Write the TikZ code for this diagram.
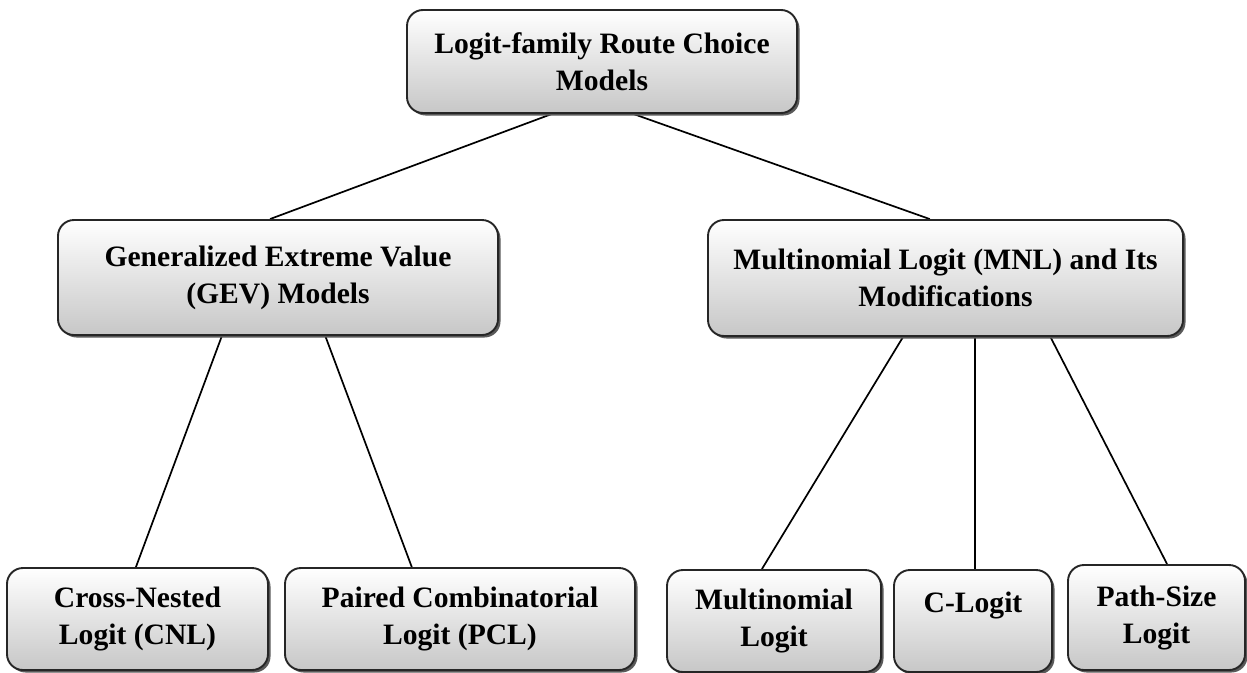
\documentclass[tikz,border=0pt]{standalone}
\usepackage{fontspec}
\setmainfont{Liberation Serif}
\usetikzlibrary{shadows,calc,backgrounds}
\begin{document}
\begin{tikzpicture}[x=1pt,y=-1pt,
  box/.style={draw=black!85, line width=1.9pt, rounded corners=16pt,
    top color=white, bottom color=black!22,
    drop shadow={shadow xshift=2.5pt, shadow yshift=-2.5pt, fill=black!65, opacity=1},
    align=center, inner sep=0pt,
    font=\fontsize{29.6}{37}\selectfont\bfseries},
  conn/.style={line width=1.7pt, black}]
\useasboundingbox (0,0) rectangle (1247,672);
\node[box, minimum width=390pt, minimum height=103pt] (top) at (602,61.5) {Logit-family Route Choice\\Models};
\node[box, minimum width=440pt, minimum height=115pt] (gev) at (278,277.5) {Generalized Extreme Value\\(GEV) Models};
\node[box, minimum width=475pt, minimum height=116pt] (mnl) at (945.5,278) {Multinomial Logit (MNL) and Its\\Modifications};
\node[box, minimum width=261pt, minimum height=102pt] (cnl) at (137.5,619) {Cross-Nested\\Logit (CNL)};
\node[box, minimum width=350pt, minimum height=102pt] (pcl) at (460,619) {Paired Combinatorial\\Logit (PCL)};
\node[box, minimum width=214pt, minimum height=102pt] (ml) at (774,621) {Multinomial\\Logit};
\node[box, minimum width=158pt, minimum height=102pt] (cl) at (973,621) {C-Logit\\\mbox{}};
\node[box, minimum width=177pt, minimum height=105pt] (psl) at (1156.5,617.5) {Path-Size\\Logit};
\begin{scope}[on background layer]
\draw[conn] ($(top.south west)!0.372!(top.south east)$) -- ($(gev.north west)!0.482!(gev.north east)$);
\draw[conn] ($(top.south west)!0.58!(top.south east)$) -- ($(mnl.north west)!0.467!(mnl.north east)$);
\draw[conn] ($(gev.south west)!0.373!(gev.south east)$) -- ($(cnl.north west)!0.494!(cnl.north east)$);
\draw[conn] ($(gev.south west)!0.607!(gev.south east)$) -- ($(pcl.north west)!0.363!(pcl.north east)$);
\draw[conn] ($(mnl.south west)!0.411!(mnl.south east)$) -- ($(ml.north west)!0.444!(ml.north east)$);
\draw[conn] ($(mnl.south west)!0.562!(mnl.south east)$) -- ($(cl.north west)!0.513!(cl.north east)$);
\draw[conn] ($(mnl.south west)!0.72!(mnl.south east)$) -- ($(psl.north west)!0.559!(psl.north east)$);
\end{scope}
\end{tikzpicture}
\end{document}
